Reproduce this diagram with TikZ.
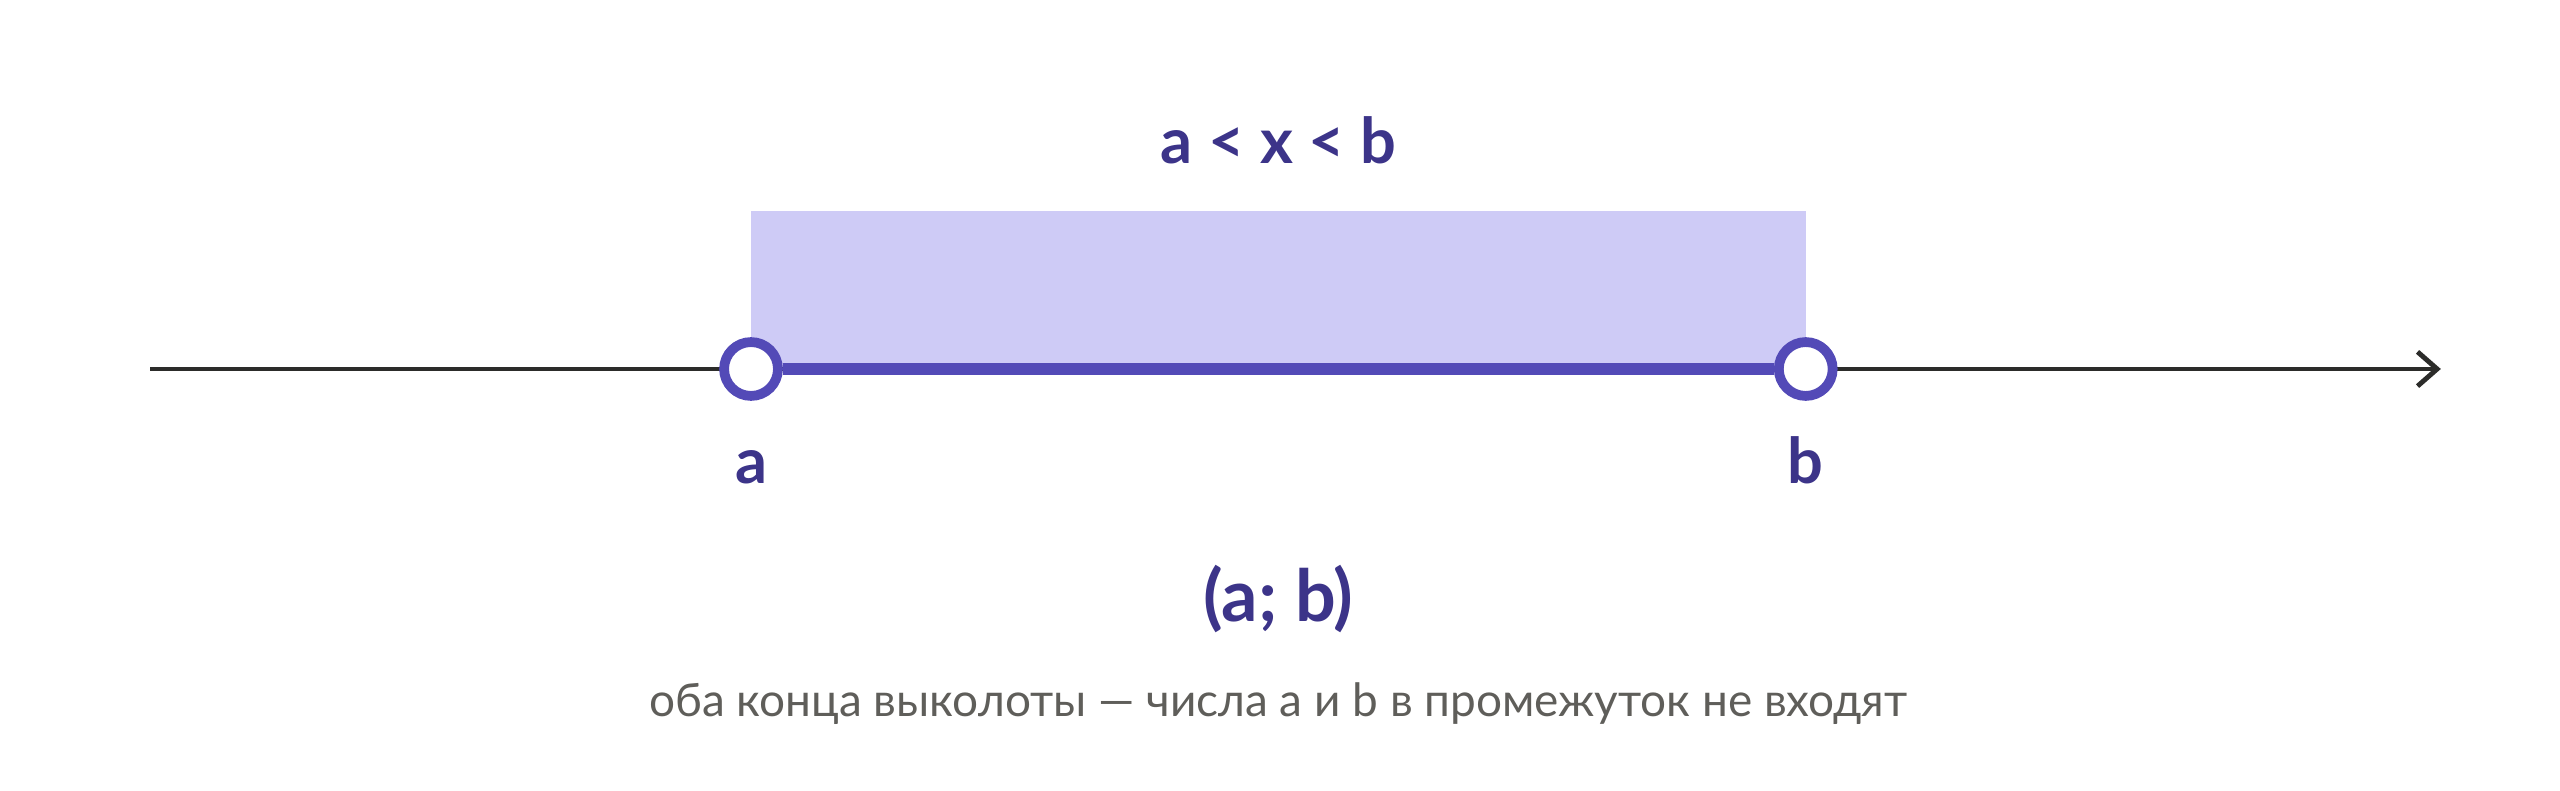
\documentclass[tikz,border=0pt]{standalone}
\usepackage{fontspec}
\setmainfont{Lato}
\usetikzlibrary{arrows.meta}
\definecolor{ink}{HTML}{3C3489}
\definecolor{seg}{HTML}{534AB7}
\definecolor{band}{HTML}{CECBF6}
\definecolor{axisc}{HTML}{2C2C2A}
\definecolor{note}{HTML}{5F5E5A}
\tikzset{
	endpt/.style={circle, draw=seg, line width=1.7pt, fill=white, inner sep=0pt, minimum size=0.33cm},
	lbl/.style={text=ink, font=\fontsize{11}{13}\selectfont\bfseries}
}
\begin{document}
\begin{tikzpicture}
			\useasboundingbox (0,0) rectangle (15.68,4.84);
			
			\coordinate (start) at (0.92,2.58);
			\coordinate (tip) at (14.95,2.58);
			\coordinate (ta) at (4.60,3.55);
			\coordinate (tb) at (11.06,3.55);
			
			\fill [band] (ta) rectangle (11.06,2.58);
			
			\draw [axisc, line width=0.85pt, -{Straight Barb[length=0.12cm, width=0.21cm, line width=0.85pt]}] (start) to (tip);
			
			\node [endpt] (ptA) at (4.60,2.58){};
			\node [endpt] (ptB) at (11.06,2.58){};
			
			\draw [seg, line width=2.2pt] (ptA) to (ptB);
			
			\node [lbl, anchor=base] (la) at (4.60,1.88){a};
			\node [lbl, anchor=base] (lb) at (11.06,1.88){b};
			\node [lbl] (ineq) at (7.83,3.98){a < x < b};
			\node [text=ink, font=\fontsize{12.5}{15}\selectfont\bfseries] (intv) at (7.83,1.17){(a; b)};
			\node [text=note, font=\fontsize{8}{10}\selectfont] (desc) at (7.83,0.53){оба конца выколоты — числа a и b в промежуток не входят};
			\end{tikzpicture}
\end{document}
